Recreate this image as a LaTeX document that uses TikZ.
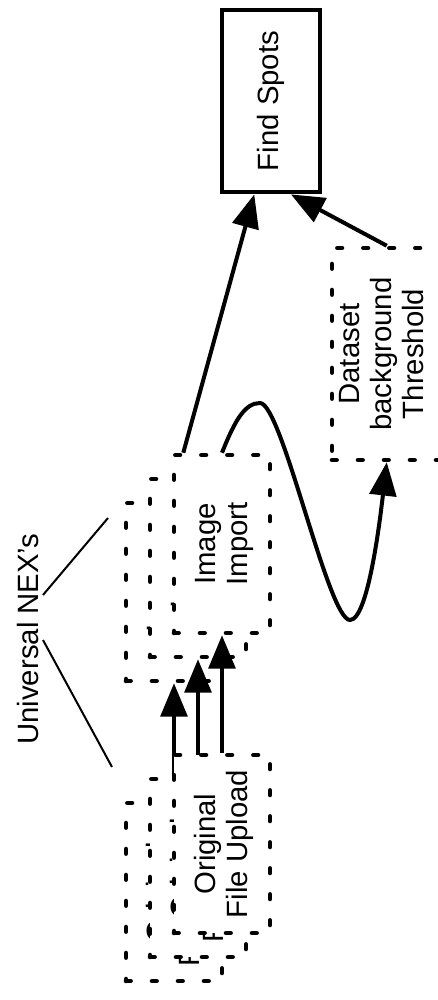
\documentclass[tikz,border=0pt]{standalone}
\usepackage{fontspec}
\setmainfont{Liberation Sans}
\usetikzlibrary{arrows.meta,calc}
\newcommand{\rtext}[2][-2.25pt]{\rotatebox{90}{\raisebox{#1}[\height][\depth]{\begin{tabular}{@{}c@{}}#2\end{tabular}}}}
\begin{document}
\begin{tikzpicture}[x=0.75pt,y=-0.75pt,
  every node/.style={font=\fontsize{22}{24}\selectfont},
  dbox/.style={draw, line width=3.4pt, dash pattern=on 3.5pt off 16pt, line cap=round,
    fill=white, minimum width=72pt, minimum height=133.5pt, inner sep=0pt},
  sbox/.style={draw, line width=3.6pt, fill=white, minimum width=73.5pt,
    minimum height=136.5pt, inner sep=0pt},
  conn/.style={line width=3pt, -{Triangle[length=25pt,width=20pt]}},
  thinline/.style={line width=1.5pt}]
\useasboundingbox (0,0) rectangle (438,1000);

% Find Spots
\node[sbox] (find) at (271,101) {\rotatebox{90}{Find Spots}};

% Dataset background Threshold (right edge lies outside the picture)
\node[dbox, minimum width=90pt, minimum height=159pt] (dat) at (392,354)
  {\rtext[5.25pt]{Dataset\\background\\Threshold}};

% back stack
\node[dbox] (origB) at (174,892) {\rtext{Original\\File Upload}};
\node[dbox] (imgB) at (174,592) {\rtext{Image\\Import}};
\draw[conn] (origB.north) -- (imgB.south);

% middle stack
\node[dbox] (origM) at (198,868) {\rtext{Original\\File Upload}};
\node[dbox] (imgM) at (198,568) {\rtext{Image\\Import}};
\draw[conn] (origM.north) -- (imgM.south);

% front stack
\node[dbox] (origF) at (222,844) {\rtext{Original\\File Upload}};
\node[dbox] (imgF) at (222,544) {\rtext{Image\\Import}};
\draw[conn] (origF.north) -- (imgF.south);

% connectors to Find Spots
\draw[conn] ($(imgF.north west)!0.115!(imgF.north east)$) --
  ($(find.south west)!0.337!(find.south east)$);
\draw[conn] ($(dat.north west)!0.458!(dat.north east)$) --
  ($(find.south west)!0.694!(find.south east)$);

% wavy connector
\draw[conn] (imgF.north) .. controls (235,420) and (245,403) .. (260,403)
  .. controls (282,403) and (328,620) .. (350,620)
  .. controls (368,620) and (380,520) .. ($(dat.south west)!0.458!(dat.south east)$);

% Universal NEX's
\node (uni) at (28,639) {\rotatebox{90}{Universal NEX's}};
\coordinate (u1s) at (43,595);
\coordinate (u1e) at (108,518);
\coordinate (u2s) at (43,640);
\coordinate (u2e) at (112,767);
\draw[thinline] (u1s) -- (u1e);
\draw[thinline] (u2s) -- (u2e);
\end{tikzpicture}
\end{document}
